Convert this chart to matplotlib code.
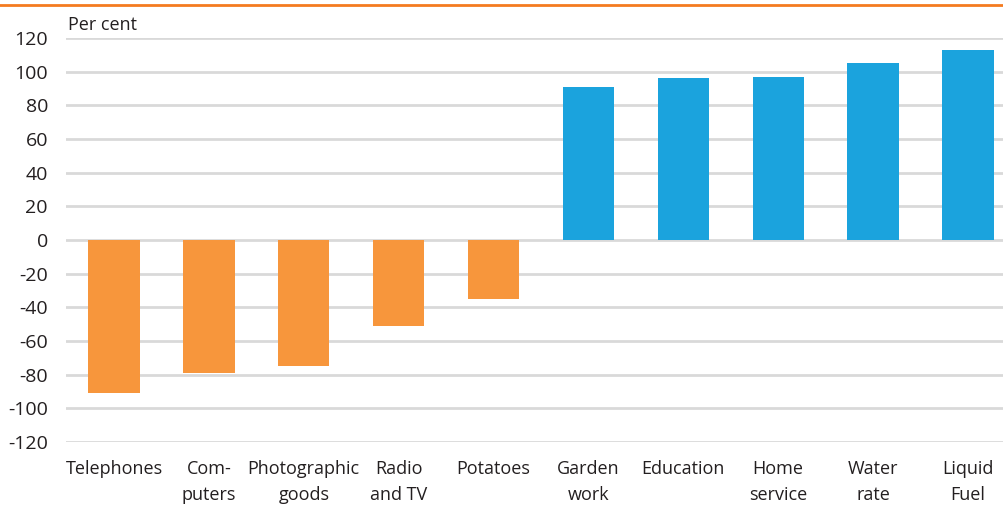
import numpy as np
import matplotlib
matplotlib.use("Agg")
import matplotlib.pyplot as plt

categories = ["Telephones", "Com-\nputers", "Photographic\ngoods", "Radio\nand TV", "Potatoes",
              "Garden\nwork", "Education", "Home\nservice", "Water\nrate", "Liquid\nFuel"]
values = [-91, -79, -75, -51, -35, 91, 96, 97, 105, 113]
yticks = list(range(-120, 121, 20))

orange = "#F7963C"
blue = "#1BA3DD"

plt.rcParams['font.family'] = ['Open Sans', 'DejaVu Sans']

fig = plt.figure(figsize=(10.04, 5.31), dpi=100)
ax = fig.add_axes([66 / 1004, 89 / 531, 1 - 66 / 1004, 404 / 531])

x = np.arange(len(categories))
colors = [orange if v < 0 else blue for v in values]
ax.bar(x, values, width=0.54, color=colors, zorder=3)

ax.set_xlim(-0.506, 9.38)
ax.set_ylim(-120, 120)
ax.set_yticks(yticks)
ax.set_yticklabels([str(t) for t in yticks], fontsize=14, color="#231F20")
ax.set_xticks(x)
ax.set_xticklabels(categories, fontsize=13, color="#231F20", linespacing=1.55, va="top")
ax.tick_params(axis="both", length=0)
ax.tick_params(axis="y", pad=13)
ax.tick_params(axis="x", pad=13)
ax.grid(axis="y", color="#D9D9D9", linewidth=2, zorder=0)
for s in ax.spines.values():
    s.set_visible(False)

# title line and unit label
fig.add_artist(plt.Line2D([0, 1], [1 - 5 / 531, 1 - 5 / 531], color="#F47B20", linewidth=2))
fig.text(68 / 1004, 1 - 25 / 531, "Per cent", fontsize=13, color="#231F20", va="center")

fig.savefig("out.png", dpi=100)
